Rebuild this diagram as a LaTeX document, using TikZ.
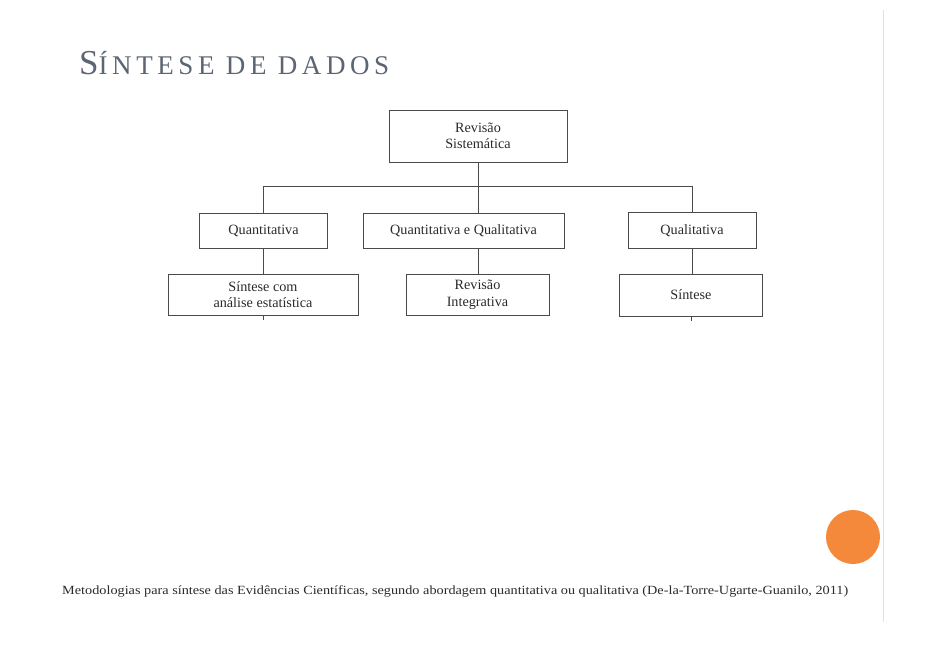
\documentclass[tikz,border=0pt]{standalone}
\usepackage{fontspec}
\setmainfont{Liberation Serif}
\definecolor{titlec}{HTML}{5B6573}
\definecolor{linec}{HTML}{4A4A4A}
\definecolor{textc}{HTML}{2A2A2A}
\definecolor{orangec}{HTML}{F5893B}
\definecolor{rulec}{HTML}{F3DADA}
\begin{document}
\begin{tikzpicture}[x=1pt,y=-1pt,
  box/.style={draw=linec, line width=0.9pt, rectangle, align=center, text=textc,
    font=\fontsize{14.2}{16.5}\selectfont, inner sep=0pt},
  conn/.style={draw=linec, line width=0.9pt}]
\useasboundingbox (0,0) rectangle (932,660);
% title
\node[anchor=base west, inner sep=0pt, text=titlec] (title) at (79,75)
  {\addfontfeatures{LetterSpace=17}{\fontsize{35}{35}\selectfont S}{\fontsize{27}{27}\selectfont ÍNTESE DE DADOS}};
% boxes
\node[box, minimum width=178, minimum height=52] (top) at (478,136) {Revisão\\Sistemática};
\node[box, minimum width=128, minimum height=35] (q1) at (263.5,230.5) {Quantitativa};
\node[box, minimum width=201, minimum height=35] (q2) at (463.5,230.5) {Quantitativa e Qualitativa};
\node[box, minimum width=128, minimum height=36] (q3) at (692,230.5) {Qualitativa};
\node[box, minimum width=190, minimum height=41] (s1) at (263,294.5) {Síntese com\\análise estatística};
\node[box, minimum width=143, minimum height=41] (s2) at (477.5,294.5) {Revisão\\Integrativa};
\node[box, minimum width=143, minimum height=42] (s3) at (691,295) {Síntese};
% connectors
\coordinate (bar) at (478,186);
\coordinate (e1) at (263.5,320);
\coordinate (e3) at (691,321);
\draw[conn] (top.south) -- (bar);
\draw[conn] (q1.north |- bar) -- (q3.north |- bar);
\draw[conn] (q1.north |- bar) -- (q1.north);
\draw[conn] (q3.north |- bar) -- (q3.north);
\draw[conn] (bar) -- (bar |- q2.north);
\draw[conn] (q1.south) -- (q1.south |- s1.north);
\draw[conn] (bar |- q2.south) -- (bar |- s2.north);
\draw[conn] (q3.south) -- (q3.south |- s3.north);
\draw[conn] (e1 |- s1.south) -- (e1);
\draw[conn] (e3 |- s3.south) -- (e3);
% caption
\node[anchor=base west, inner sep=0pt, text=textc, font=\fontsize{12.5}{12.5}\selectfont, xscale=1.14] (cap) at (62,594)
  {Metodologias para síntese das Evidências Científicas, segundo abordagem quantitativa ou qualitativa (De-la-Torre-Ugarte-Guanilo, 2011)};
% decorations
\fill[orangec] (853,537) circle (27);
\coordinate (r1) at (883,10);
\coordinate (r2) at (883,622);
\draw[rulec, line width=0.8pt] (r1) -- (r2);
\end{tikzpicture}
\end{document}
